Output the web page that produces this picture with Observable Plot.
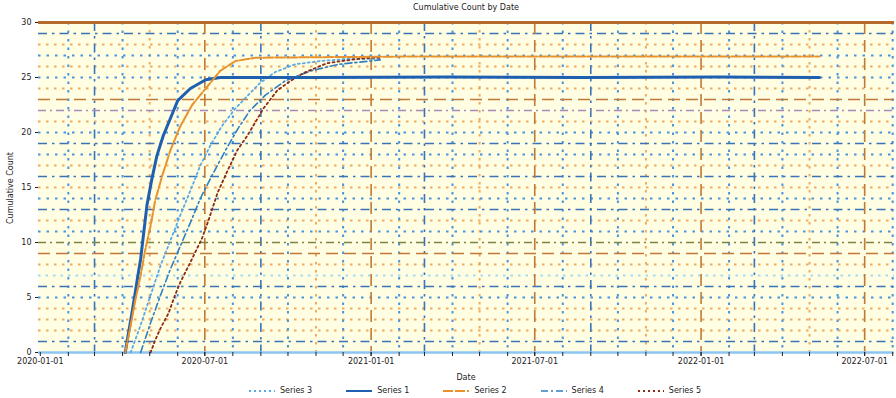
<!DOCTYPE html>
<html><head><meta charset="utf-8">
<script src="https://cdn.jsdelivr.net/npm/d3@7"></script>
<script src="https://cdn.jsdelivr.net/npm/@observablehq/plot@0.6"></script>
<style>
body{margin:0;background:#fff;font-family:"DejaVu Sans",sans-serif;}
#wrap{position:relative;width:896px;height:398px;overflow:hidden;}
#title{position:absolute;top:3px;left:38px;width:856px;text-align:center;font-size:8px;color:#222;z-index:2;}
#chart{position:absolute;top:8px;left:0;}
#ylab{position:absolute;left:10px;top:188px;transform:translate(-50%,-50%) rotate(-90deg);font-size:8px;color:#222;white-space:nowrap;}
#xlab{position:absolute;top:373px;left:38px;width:856px;text-align:center;font-size:8px;color:#222;}
#legend{position:absolute;top:386px;left:0;width:950px;display:flex;justify-content:center;gap:34px;font-size:8px;color:#222;align-items:center;}
#legend span{display:flex;align-items:center;gap:5px;}
</style></head>
<body><div id="wrap"><div id="chart"></div><div id="title"></div><div id="ylab"></div><div id="xlab"></div><div id="legend"></div></div>
<script>
// ---- data ----
const titleText = "Cumulative Count by Date";
const yLabelText = "Cumulative Count";
const xLabelText = "Date";
const seriesNames = ["Series 1", "Series 2", "Series 3", "Series 4", "Series 5"];
const tickLabels = ["2020-01-01","2020-07-01","2021-01-01","2021-07-01","2022-01-01","2022-07-01"];
const yTicks = [0,5,10,15,20,25,30];

const s1Dates = ["2020-04-04","2020-04-07","2020-04-11","2020-04-14","2020-04-17","2020-04-21","2020-04-24","2020-04-28","2020-05-03","2020-05-09","2020-05-16","2020-05-24","2020-06-01","2020-06-15","2020-07-02","2020-07-18","2020-10-27","2021-03-26","2021-08-23","2022-01-20","2022-05-12"];
const s1Values = [0,1.5,3.4,4.9,6.5,8.5,10.6,13.4,15.6,17.9,19.7,21.3,22.9,24.0,24.8,25.0,25.0,25.05,25.0,25.05,25.0];

const s2Dates = ["2020-04-04","2020-04-10","2020-04-15","2020-04-21","2020-04-26","2020-05-02","2020-05-07","2020-05-15","2020-05-24","2020-06-04","2020-06-17","2020-07-02","2020-07-18","2020-08-04","2020-08-26","2021-02-04","2021-08-23","2022-05-12"];
const s2Values = [0,2.5,4.7,7.0,9.3,11.5,13.8,16.1,18.4,20.6,22.5,24.0,25.6,26.5,26.8,26.9,26.9,26.9];

const s3Dates = ["2020-04-10","2020-04-21","2020-05-02","2020-05-13","2020-05-24","2020-06-04","2020-06-15","2020-06-26","2020-07-07","2020-07-20","2020-08-04","2020-08-18","2020-08-31","2020-09-17","2020-10-09","2020-11-06","2020-12-09","2021-01-11"];
const s3Values = [0,2.5,5.2,7.9,10.2,12.5,14.7,17.0,18.8,20.6,22.2,23.4,24.5,25.5,26.2,26.5,26.7,26.7];

const s4Dates = ["2020-04-21","2020-05-02","2020-05-13","2020-05-24","2020-06-04","2020-06-15","2020-06-26","2020-07-09","2020-07-24","2020-08-07","2020-08-20","2020-09-06","2020-09-28","2020-10-26","2020-11-26","2020-12-31","2021-01-11"];
const s4Values = [0,2.7,5.2,7.6,9.7,11.8,14.0,16.1,18.4,20.4,22.0,23.4,24.7,25.6,26.2,26.5,26.6];

const s5Dates = ["2020-05-02","2020-05-07","2020-05-13","2020-05-22","2020-05-29","2020-06-04","2020-06-15","2020-06-28","2020-07-05","2020-07-15","2020-07-26","2020-08-06","2020-08-17","2020-09-04","2020-09-19","2020-10-04","2020-10-18","2020-11-13","2020-12-09","2020-12-31","2021-01-11"];
const s5Values = [0,1.1,2.2,3.6,5.2,6.4,8.2,10.4,12.0,14.5,16.5,18.4,19.7,22.2,23.8,24.7,25.4,26.3,26.6,26.8,26.8];

// ---- styles ----
const seriesStyles = [
  {stroke:"#1f5fb0", strokeWidth:3, strokeDasharray:null},
  {stroke:"#e8922e", strokeWidth:2, strokeDasharray:"10,2"},
  {stroke:"#5aaae8", strokeWidth:1.8, strokeDasharray:"2,3"},
  {stroke:"#2f7fc1", strokeWidth:1.6, strokeDasharray:"7,3,2,3"},
  {stroke:"#8b2a18", strokeWidth:1.8, strokeDasharray:"2,3"}
];
const legendOrder = [2,0,1,3,4];
const gridStyles = {
  or:{stroke:"#eeab62", strokeDasharray:"2.5,5.5", strokeWidth:2},
  bl:{stroke:"#4a94dc", strokeDasharray:"2.5,6", strokeWidth:2},
  cy:{stroke:"#a4dbf2", strokeDasharray:"2.5,5", strokeWidth:2},
  bd:{stroke:"#3a74b8", strokeDasharray:"9,5,2.5,5", strokeWidth:1.6},
  br:{stroke:"#c07a38", strokeDasharray:"12,6", strokeWidth:1.6},
  dd:{stroke:"#7d8546", strokeDasharray:"8,4,2,4", strokeWidth:1.6},
  pu:{stroke:"#a48cbd", strokeDasharray:"8,4,2,4", strokeWidth:1.6}
};
const hStyleOrder = ["bd","or","or","or","bl","bd","cy","or","br","dd","bl","or","bd","bl","or","bd","or","bl","bd","bl","or","pu","br","or","bl","or","bl","or","bd"];
const vStyleOrder = ["bl","bd","bl","or","bl","br"];

// ---- build ----
const parse = d3.utcParse("%Y-%m-%d");
const allDates = [s1Dates,s2Dates,s3Dates,s4Dates,s5Dates];
const allValues = [s1Values,s2Values,s3Values,s4Values,s5Values];
const rows = allDates.map((ds,i)=>ds.map((d,j)=>({date:parse(d), value:allValues[i][j], series:seriesNames[i]})));

const xDomain = [parse("2019-12-30"), parse("2022-08-03")];
const months = d3.utcMonth.range(parse("2020-02-01"), xDomain[1]);
const hVals = d3.range(1,30);

const gridMarks = [];
for (const k of Object.keys(gridStyles)) {
  const hv = hVals.filter((v,i)=>hStyleOrder[i]===k);
  if (hv.length) gridMarks.push(Plot.ruleY(hv, gridStyles[k]));
  const vv = months.filter((m,i)=>vStyleOrder[i%vStyleOrder.length]===k);
  if (vv.length) gridMarks.push(Plot.ruleX(vv, gridStyles[k]));
}

const drawOrder = [2,3,4,0,1];
const lineMarks = drawOrder.map(i=>{
  const s = seriesStyles[i];
  const o = {x:"date", y:"value", stroke:s.stroke, strokeWidth:s.strokeWidth, curve:"linear"};
  if (s.strokeDasharray) o.strokeDasharray = s.strokeDasharray;
  return Plot.line(rows[i], o);
});

const fmt = d3.utcFormat("%Y-%m-%d");
const chart = Plot.plot({
  width:896, height:378,
  marginLeft:38, marginRight:2, marginTop:14, marginBottom:34,
  style:{fontFamily:"DejaVu Sans", fontSize:"8px", color:"#222", background:"transparent"},
  x:{type:"utc", domain:xDomain},
  y:{domain:[0,30]},
  marks:[
    Plot.frame({fill:"#fffde2", stroke:null}),
    ...gridMarks,
    Plot.ruleY([30], {stroke:"#b5692a", strokeWidth:3}),
    Plot.ruleY([0], {stroke:"#8cc4f2", strokeWidth:2.5}),
    ...lineMarks,
    Plot.axisX({ticks:months, tickFormat:()=>"", tickSize:4, stroke:"#222", label:null}),
    Plot.axisX({ticks:tickLabels.map(parse), tickFormat:fmt, tickSize:4, tickPadding:2, label:null}),
    Plot.axisY({ticks:yTicks, tickSize:3, tickPadding:4, label:null})
  ]
});
document.getElementById("chart").appendChild(chart);
document.getElementById("title").textContent = titleText;
document.getElementById("ylab").textContent = yLabelText;
document.getElementById("xlab").textContent = xLabelText;
const leg = document.getElementById("legend");
for (const i of legendOrder) {
  const s = seriesStyles[i];
  const sp = document.createElement("span");
  sp.innerHTML = `<svg width="26" height="6"><line x1="0" y1="3" x2="26" y2="3" stroke="${s.stroke}" stroke-width="${Math.min(s.strokeWidth,2)}" ${s.strokeDasharray?`stroke-dasharray="${s.strokeDasharray}"`:""}/></svg>`;
  const t = document.createElement("span"); t.textContent = seriesNames[i];
  sp.appendChild(t); leg.appendChild(sp);
}
</script></body></html>
